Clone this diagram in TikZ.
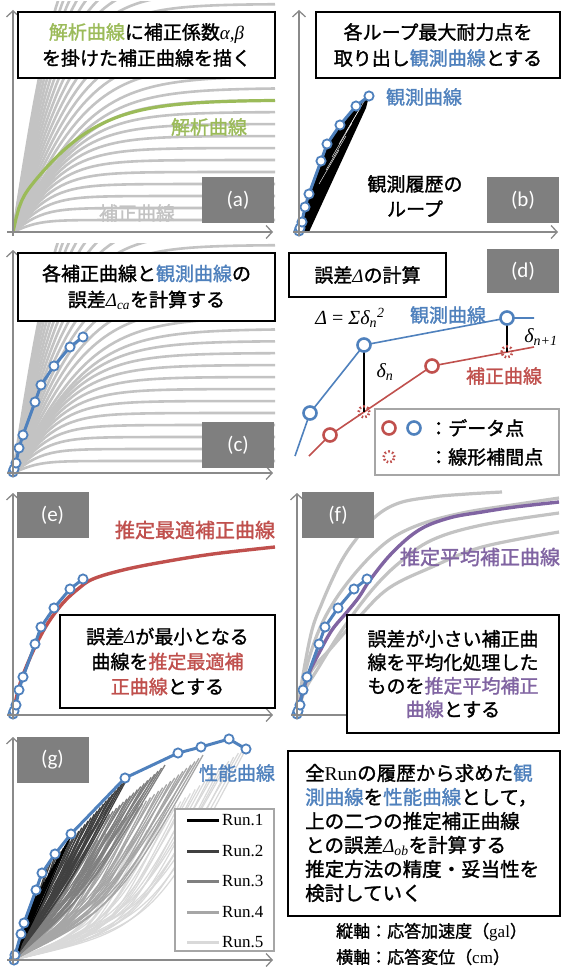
\documentclass[tikz,border=0pt]{standalone}
\usepackage{fontspec}
\setmainfont{Liberation Serif}
\newfontfamily\jp{Noto Sans CJK JP}[FakeBold=1.4]
\newfontfamily\lbl{Carlito}
\usetikzlibrary{arrows.meta}
\definecolor{cgreen}{HTML}{9BBB59}
\definecolor{cblue}{HTML}{4F81BD}
\definecolor{cred}{HTML}{C0504D}
\definecolor{cpurple}{HTML}{8064A2}
\definecolor{cgray}{HTML}{C3C3C3}
\definecolor{caxis}{HTML}{8A8A8A}
\definecolor{clabel}{HTML}{7F7F7F}
\definecolor{run2}{HTML}{404040}
\definecolor{run3}{HTML}{808080}
\definecolor{run4}{HTML}{A6A6A6}
\definecolor{run5}{HTML}{D9D9D9}
\tikzset{
 axisarrow/.style={draw=caxis, line width=1.3pt, -{Straight Barb[length=6pt,width=13pt]}},
 graycurve/.style={draw=cgray, line width=2.6pt},
 greencurve/.style={draw=cgreen, line width=3.2pt},
 obsline/.style={draw=cblue, line width=3pt, line join=round},
 obspt/.style={draw=cblue, fill=white, line width=1.8pt},
 txtbox/.style={draw=black, line width=1.4pt, fill=white, inner sep=0pt, align=center, font=\jp\fontsize{19}{26}\selectfont},
 lblbox/.style={fill=clabel, text=white, font=\lbl\fontsize{21}{24}\selectfont, minimum width=72pt, minimum height=46pt, inner sep=0pt},
 jptext/.style={font=\jp\fontsize{19}{25}\selectfont, inner sep=0pt},
 bluetext/.style={jptext, text=cblue},
 redtext/.style={jptext, text=cred},
 purpletext/.style={jptext, text=cpurple},
 legbox/.style={draw=run4, line width=1.3pt, fill=white, inner sep=0pt},
 dline/.style={line width=1.6pt},
 dpt/.style={fill=white, line width=2.6pt},
 dotpt/.style={draw=cred, line width=2.6pt, dash pattern=on 1.6pt off 2.2pt},
 fcurve/.style={draw=cgray, line width=3.2pt, smooth, tension=0.6},
}
\newcommand\obsShort{%
 \draw[obsline] (0,-1) -- (1,-4) -- (3,-10) -- (6,-25) -- (10,-38) -- (22,-71) -- (28,-88) -- (41,-107) -- (57,-126) -- (70,-136);
 \foreach \p in {(0,-1),(1,-4),(3,-10),(6,-25),(10,-38),(22,-71),(28,-88),(41,-107),(57,-126),(70,-136)}{\draw[obspt] \p circle[radius=4.6pt];}}
\newcommand\grayFamily{%
 \foreach \H in {12,24,...,324}{%
  \pgfmathsetmacro\W{\H<=150 ? 22+0.42*\H : 85-0.2*(\H-150)}%
  \draw[graycurve] plot[domain=0:262,samples=50] (\x,{-\H*tanh(min(\x/\W,4))});
 }}
\newcommand\gRun[9]{%
 \foreach \i in {0,...,#2}{%
  \pgfmathsetmacro\ex{#3+(#5-#3)*\i/#2}%
  \pgfmathsetmacro\ey{#4+(#6-#4)*\i/#2}%
  \pgfmathsetmacro\cy{#8+0.05*sin(\i*137)}%
  \draw[#1, line width=#9] (0,0) .. controls ({#7*\ex},{\cy*\ey}) .. (\ex,\ey);
 }}
\begin{document}
\begin{tikzpicture}[x=1pt,y=-1pt]
\path[use as bounding box, fill=white] (0,0) rectangle (563,974);

% ================= (a)
\begin{scope}
 \clip (13,2) rectangle (276,232);
 \begin{scope}[shift={(13,232)}]
  \grayFamily
  \draw[greencurve] plot[domain=0:262,samples=90] (\x,{-108*tanh(min(\x/85,4))-24*tanh(min(\x/7,4))});
 \end{scope}
\end{scope}
\draw[axisarrow] (13,236) -- (13,10);
\draw[axisarrow] (7,232) -- (273,232);
\node[txtbox, minimum width=257pt, minimum height=66pt] (boxa) at (146.5,45) {{\color{cgreen}解析曲線}に補正係数{\rmfamily\itshape α,β}\\を掛けた補正曲線を描く};
\node[jptext, text=cgreen] (ta1) at (209,127) {解析曲線};
\node[jptext, text=cgray] (ta2) at (137,213) {補正曲線};
\node[lblbox] (laba) at (238,200) {(a)};

% ================= (b)
\begin{scope}[shift={(299,232)}]
 \fill[black] (0,0) -- (0,-1) -- (1,-4) -- (3,-10) -- (6,-25) -- (10,-38) -- (22,-71) -- (28,-88) -- (41,-107) -- (57,-126) -- (70,-136) -- (67,-124) -- (10,0) -- cycle;
 \foreach \a/\b in {20/-48,27/-62,33/-75,40/-88,47/-100}{\draw[white, line width=0.4pt] (\a,\b) -- ({\a+20},{\b-34});}
 \obsShort
\end{scope}
\draw[axisarrow] (299,236) -- (299,10);
\draw[axisarrow] (293,232) -- (558,232);
\node[txtbox, minimum width=244pt, minimum height=66pt] (boxb) at (438,45) {各ループ最大耐力点を\\取り出し{\color{cblue}観測曲線}とする};
\node[bluetext] (tb1) at (424,97) {観測曲線};
\node[jptext, align=center] (tb2) at (415,196) {観測履歴の\\ループ};
\node[lblbox] (labb) at (523,200) {(b)};

% ================= (c)
\begin{scope}
 \clip (13,243) rectangle (276,473);
 \begin{scope}[shift={(13,473)}]
  \grayFamily
 \end{scope}
\end{scope}
\begin{scope}[shift={(13,473)}]
 \obsShort
\end{scope}
\draw[axisarrow] (13,477) -- (13,250);
\draw[axisarrow] (7,473) -- (273,473);
\node[txtbox, minimum width=257pt, minimum height=68pt] (boxc) at (146.5,287) {各補正曲線と{\color{cblue}観測曲線}の\\誤差{\rmfamily\itshape Δ\textsubscript{ca}}を計算する};
\node[lblbox] (labc) at (238,445) {(c)};

% ================= (d)
\node[txtbox, minimum width=157pt, minimum height=44pt] (boxd) at (367.5,275) {誤差{\rmfamily\itshape Δ}の計算};
\node[lblbox, minimum height=44pt] (labd) at (523,271) {(d)};
\node[inner sep=0pt, font=\fontsize{20}{24}\selectfont] (formula) at (350,318) {{\itshape Δ} = {\itshape Σδ\textsubscript{n}\textsuperscript{2}}};
\coordinate (b0) at (295,456);
\coordinate (b1) at (310,413);
\coordinate (b2) at (364,345);
\coordinate (b3) at (507,318);
\coordinate (b4) at (534,318);
\coordinate (r0) at (309,456);
\coordinate (r1) at (330,435);
\coordinate (r2) at (432,366);
\coordinate (r3) at (534,347);
\coordinate (i1) at (364,412);
\coordinate (i2) at (507,352);
\draw[dline, cblue] (b0) -- (b1) -- (b2) -- (b3) -- (b4);
\draw[dline, cred] (r0) -- (r1) -- (r2) -- (r3);
\draw[dline, black] (b2) -- (i1);
\draw[dline, black] (b3) -- (i2);
\foreach \c in {b1,b2,b3}{\draw[dpt, draw=cblue] (\c) circle[radius=6.5pt];}
\foreach \c in {r1,r2}{\draw[dpt, draw=cred] (\c) circle[radius=6.5pt];}
\foreach \c in {i1,i2}{\draw[dotpt] (\c) circle[radius=5.5pt];}
\node[bluetext] (td1) at (448,315) {観測曲線};
\node[redtext] (td2) at (504,376) {補正曲線};
\node[inner sep=0pt, font=\fontsize{20}{24}\selectfont] (dn) at (385,372) {\itshape δ\textsubscript{n}};
\node[inner sep=0pt, font=\fontsize{20}{24}\selectfont] (dn1) at (541,337) {\itshape δ\textsubscript{n+1}};
\node[legbox, minimum width=184pt, minimum height=66pt] (legd) at (467,442) {};
\draw[dpt, draw=cred] (389,428) circle[radius=6.5pt];
\draw[dpt, draw=cblue] (414,428) circle[radius=6.5pt];
\draw[dotpt] (389,457) circle[radius=5.5pt];
\node[jptext, anchor=west] (ld1) at (429,428) {：データ点};
\node[jptext, anchor=west] (ld2) at (429,457) {：線形補間点};

% ================= (e)
\begin{scope}[shift={(13,715)}]
 \draw[draw=cred, line width=3.4pt] plot[smooth, tension=0.6] coordinates {(0,0) (4,-20) (10,-40) (22,-68) (35,-92) (50,-112) (65,-126) (80,-136) (110,-145) (150,-153) (200,-161) (262,-168)};
 \obsShort
\end{scope}
\draw[axisarrow] (13,719) -- (13,493);
\draw[axisarrow] (7,715) -- (273,715);
\node[redtext, font=\jp\fontsize{20}{25}\selectfont] (te) at (195,530) {推定最適補正曲線};
\node[lblbox] (labe) at (52.5,515) {(e)};
\node[txtbox, minimum width=215pt, minimum height=93pt, font=\jp\fontsize{19}{25}\selectfont] (boxe) at (167.5,661.5) {誤差{\rmfamily\itshape Δ}が最小となる\\曲線を{\color{cred}推定最適補}\\{\color{cred}正曲線}とする};

% ================= (f)
\begin{scope}[shift={(297,715)}]
 \draw[fcurve] plot coordinates {(0,0) (6,-40) (15,-85) (25,-112) (35,-135) (45,-155) (57,-173) (78,-198) (102,-212) (135,-218) (170,-221) (205,-223)};
 \draw[fcurve] plot coordinates {(0,0) (8,-42) (20,-80) (35,-110) (55,-138) (78,-163) (100,-180) (130,-193) (170,-203) (215,-210) (262,-217)};
 \draw[fcurve] plot coordinates {(0,0) (8,-25) (20,-45) (45,-85) (75,-125) (102,-152) (135,-175) (185,-190) (262,-202)};
 \draw[fcurve] plot coordinates {(0,0) (12,-40) (35,-68) (62,-98) (92,-127) (135,-148) (185,-168) (262,-183)};
 \draw[draw=cpurple, line width=3.4pt] plot[smooth, tension=0.6] coordinates {(0,0) (5,-20) (12,-42) (22,-62) (35,-85) (50,-103) (62,-118) (73,-135) (95,-162) (122,-185) (152,-197) (185,-203) (218,-208) (262,-213)};
 \obsShort
\end{scope}
\draw[axisarrow] (297,719) -- (297,493);
\draw[axisarrow] (291,715) -- (558,715);
\node[purpletext, font=\jp\fontsize{20}{25}\selectfont] (tf) at (480,557) {推定平均補正曲線};
\node[lblbox] (labf) at (338,515) {(f)};
\node[txtbox, minimum width=212pt, minimum height=118pt, font=\jp\fontsize{19}{23.5}\selectfont] (boxf) at (453,674) {誤差が小さい補正曲\\線を平均化処理した\\ものを{\color{cpurple}推定平均補正}\\{\color{cpurple}曲線}とする};

% ================= (g)
\begin{scope}[shift={(13,960)}]
 \gRun{run5}{26}{110}{-110}{235}{-215}{0.6}{0.2}{1.2pt}
 \gRun{run4}{26}{85}{-120}{190}{-205}{0.55}{0.3}{1.3pt}
 \gRun{run3}{26}{62}{-115}{152}{-195}{0.5}{0.38}{1.3pt}
 \gRun{run2}{26}{35}{-95}{115}{-183}{0.5}{0.45}{1.3pt}
 \gRun{black}{16}{18}{-55}{60}{-128}{0.5}{0.5}{1.1pt}
 \fill[black] (0,0) -- (2,-5) -- (8,-26) -- (11,-37) -- (23,-70) -- (28,-82) -- (16,-40) -- (7,-10) -- (4,0) -- cycle;
 \draw[obsline] (1,0) -- (2,-5) -- (8,-26) -- (11,-37) -- (23,-70) -- (29,-87) -- (42,-106) -- (58,-126) -- (112,-182) -- (165,-207) -- (188,-213) -- (216,-221) -- (233,-211);
 \foreach \p in {(1,0),(2,-5),(8,-26),(11,-37),(23,-70),(29,-87),(42,-106),(58,-126),(112,-182),(165,-207),(188,-213),(216,-221),(233,-211)}{\draw[obspt] \p circle[radius=4.6pt];}
\end{scope}
\draw[axisarrow] (13,964) -- (13,737);
\draw[axisarrow] (7,960) -- (273,960);
\node[lblbox] (labg) at (52.5,759.5) {(g)};
\node[bluetext] (tg) at (237,773) {性能曲線};
\node[legbox, minimum width=99pt, minimum height=142pt] (legg) at (224.5,880) {};
\foreach \k/\col/\yy in {1/black/820, 2/run2/851, 3/run3/881, 4/run4/912, 5/run5/942}{
 \draw[\col, line width=3pt] (187,\yy) -- (219,\yy);
 \node[anchor=west, inner sep=0pt, font=\fontsize{17}{20}\selectfont] (run\k) at (222,\yy) {Run.\k};
}

% ================= summary box
\node[txtbox, minimum width=272pt, minimum height=165pt] (boxg) at (424,833.5) {};
\node[jptext, anchor=west, align=left, font=\jp\fontsize{19.5}{24}\selectfont] (tgb) at (305,833) {全{\rmfamily Run}の履歴から求めた{\color{cblue}観}\\{\color{cblue}測曲線}を{\color{cblue}性能曲線}として，\\上の二つの推定補正曲線\\との誤差{\rmfamily\itshape Δ\textsubscript{ob}}を計算する\\推定方法の精度・妥当性を\\検討していく};
\node[jptext, anchor=west, font=\jp\fontsize{17}{20}\selectfont] (ax1) at (336,932) {縦軸：応答加速度（{\rmfamily gal}）};
\node[jptext, anchor=west, font=\jp\fontsize{17}{20}\selectfont] (ax2) at (336,957) {横軸：応答変位（{\rmfamily cm}）};
\end{tikzpicture}
\end{document}
